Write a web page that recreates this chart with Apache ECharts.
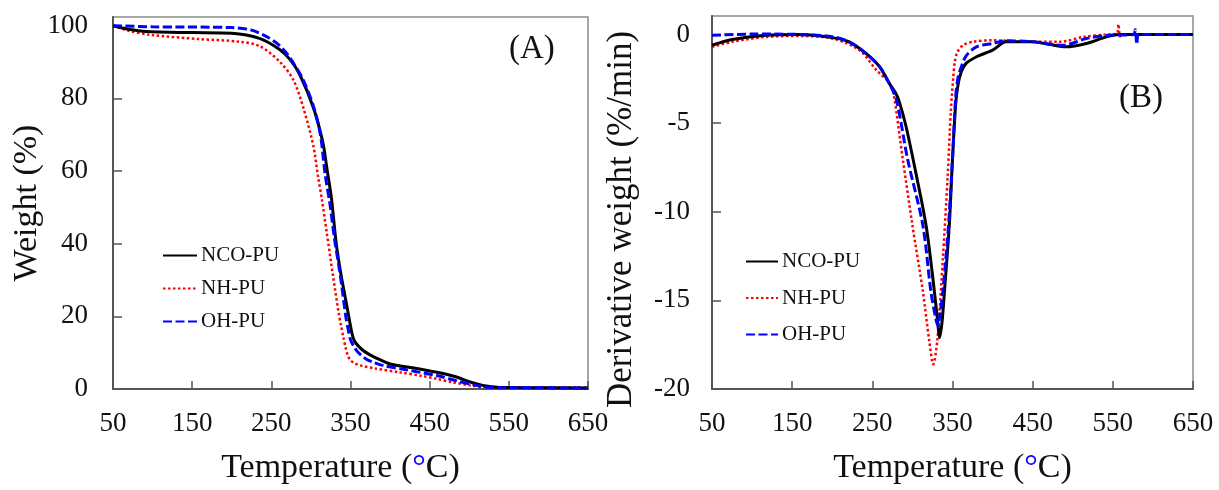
<!DOCTYPE html>
<html>
<head>
<meta charset="utf-8">
<script src="https://cdn.jsdelivr.net/npm/echarts@6/dist/echarts.min.js"></script>
<style>
  html, body { margin: 0; padding: 0; background: #fff; }
  #chart { width: 1219px; height: 490px; }
</style>
</head>
<body>
<div id="chart"></div>
<script>
// Tick positions
const xTicks = [50, 150, 250, 350, 450, 550, 650];
const yTicksA = [0, 20, 40, 60, 80, 100];
const yTicksB = [-20, -15, -10, -5, 0];

// (A) TGA weight curves: [temperature °C, weight %]
const tgaNCO = [[50,100],[70,99.0],[92,98.4],[150,98.1],[200,97.9],[235,96.5],[260,93.5],[274,90.6],[286,86.5],[303,77.5],[315,68],[320,61],[326,52.4],[332,40],[338,31.5],[345,23.3],[349,18.5],[352,15.2],[355,13.2],[360,11.8],[366,10.6],[373,9.6],[380,8.8],[400,6.9],[430,5.8],[459,4.6],[484,3.3],[500,2.0],[517,1.0],[535,0.5],[560,0.4],[650,0.3]];
const tgaNH = [[50,100],[70,98.6],[97,97.5],[160,96.3],[210,95.6],[236,94.3],[261,90],[278,85],[291,77],[303,67],[309,58.5],[314,52],[320,43],[328,31],[335,21],[338,17.5],[341,14.2],[344,11.2],[347,9.0],[350,7.9],[355,7.1],[362,6.5],[380,5.7],[412,4.6],[440,3.6],[459,2.8],[480,1.8],[501,1.0],[520,0.5],[650,0.4]];
const tgaOH = [[50,100],[100,99.7],[200,99.5],[225,98.8],[244,97],[258,95],[269,92.5],[280,89],[290,85.2],[303,78],[312,70],[318,59],[324,51],[330,41],[337,31.5],[344,20],[347,16.5],[350,13.6],[354,11.8],[358,10.5],[362,9.6],[370,8.2],[380,7.3],[391,6.5],[420,5.3],[459,3.7],[485,2.2],[509,1.0],[525,0.4],[650,0.3]];

// (B) DTG curves: [temperature °C, derivative weight %/min]
const dtgNCO = [[50,-0.6],[75,-0.28],[117,-0.04],[159,0],[200,-0.17],[221,-0.41],[242,-1.06],[259,-1.81],[271,-2.74],[279,-3.3],[283,-3.7],[292,-5.17],[305,-7.96],[317,-10.76],[325,-13.55],[331,-15.97],[334,-17.1],[337,-16.2],[340,-14.48],[346,-10.76],[350,-7.03],[354,-3.9],[357,-2.8],[361,-2.1],[367,-1.62],[380,-1.25],[400,-0.88],[417,-0.41],[450,-0.41],[470,-0.55],[492,-0.69],[517,-0.5],[542,-0.13],[559,0],[650,0]];
const dtgNH = [[50,-0.69],[75,-0.41],[117,-0.13],[159,-0.08],[200,-0.22],[234,-0.88],[255,-2.0],[271,-2.7],[276,-3.2],[288,-7.03],[300,-10.76],[313,-14.48],[321,-17.28],[326,-18.6],[331,-17.28],[338,-12.62],[344,-7.96],[348,-4.23],[351,-2.4],[353,-1.5],[356,-1.0],[363,-0.6],[375,-0.41],[400,-0.32],[450,-0.41],[484,-0.41],[513,-0.13],[540,0],[555,0.05],[557,0.58],[559,-0.1],[562,0],[650,0]];
const dtgOH = [[50,-0.04],[100,0.03],[150,0.02],[200,-0.12],[221,-0.41],[242,-1.06],[259,-1.81],[271,-2.74],[280,-3.67],[294,-7.03],[313,-10.76],[323,-14.48],[329,-16],[332,-16.44],[334,-15.9],[338,-14.48],[345,-10.76],[350,-7.03],[354,-3.5],[357,-2.4],[362,-1.7],[367,-1.2],[380,-0.69],[400,-0.5],[417,-0.35],[450,-0.41],[488,-0.6],[517,-0.22],[545,-0.04],[576,0],[578,0.28],[580,-0.55],[582,0],[650,0]];

const FONT = '"Liberation Serif", "Times New Roman", serif';
const AXIS_COLOR = '#555555';

const styles = {
  'NCO-PU': { color: '#000000', type: 'solid', width: 3 },
  'NH-PU': { color: '#ff0000', type: [2.5, 2.5], width: 2.5 },
  'OH-PU': { color: '#0000ff', type: [9, 3.5], width: 3 }
};

function makeSeries(name, data, idx) {
  const s = styles[name];
  return {
    name: name,
    type: 'line',
    xAxisIndex: idx,
    yAxisIndex: idx,
    data: data,
    symbol: 'none',
    smooth: 0.3,
    lineStyle: { color: s.color, type: s.type, width: s.width },
    itemStyle: { color: s.color },
    z: name === 'NCO-PU' ? 3 : (name === 'OH-PU' ? 4 : 2)
  };
}

function xAxis(gridIndex, shiftLeft) {
  return {
    type: 'value',
    gridIndex: gridIndex,
    min: 50, max: 650,
    name: 'Temperature ({deg|°}C)',
    nameLocation: 'middle',
    nameGap: 62,
    nameTextStyle: {
      fontFamily: FONT, fontSize: 34, color: '#111',
      padding: [0, shiftLeft, 0, 0],
      rich: { deg: { color: '#0000ff', fontFamily: FONT, fontSize: 34 } }
    },
    axisLine: { show: true, onZero: false, lineStyle: { color: AXIS_COLOR, width: 2 } },
    axisTick: { show: true, inside: true, length: 8, customValues: xTicks, lineStyle: { color: AXIS_COLOR, width: 1.5 } },
    axisLabel: { customValues: xTicks, margin: 21, fontFamily: FONT, fontSize: 27, color: '#111' },
    splitLine: { show: false }
  };
}

function legend(left, top, itemWidth, gap) {
  return {
    left: left, top: top, orient: 'vertical', padding: 0,
    itemWidth: itemWidth, itemHeight: 14, itemGap: gap,
    data: ['NCO-PU', 'NH-PU', 'OH-PU'],
    itemStyle: { opacity: 0 },
    textStyle: { fontFamily: FONT, fontSize: 21, color: '#111', lineHeight: 21, padding: [0, 0, 0, -1] },
    selectedMode: false
  };
}

const option = {
  backgroundColor: '#ffffff',
  animation: false,
  grid: [
    { left: 113, top: 17, width: 475, height: 375, show: true, borderColor: '#8c8c8c', borderWidth: 1.5, backgroundColor: 'transparent' },
    { left: 712, top: 16, width: 481, height: 376, show: true, borderColor: '#8c8c8c', borderWidth: 1.5, backgroundColor: 'transparent' }
  ],
  xAxis: [xAxis(0, 20), xAxis(1, 0)],
  yAxis: [
    {
      type: 'value', gridIndex: 0, min: 0, max: 102.4,
      name: 'Weight (%)', nameLocation: 'middle', nameGap: 67,
      nameTextStyle: { fontFamily: FONT, fontSize: 34, color: '#111' },
      axisLine: { show: true, onZero: false, lineStyle: { color: AXIS_COLOR, width: 2 } },
      axisTick: { show: true, inside: true, length: 9, customValues: yTicksA, lineStyle: { color: AXIS_COLOR, width: 1.5 } },
      axisLabel: { customValues: yTicksA, margin: 25, fontFamily: FONT, fontSize: 27, color: '#111' },
      splitLine: { show: false }
    },
    {
      type: 'value', gridIndex: 1, min: -20, max: 1.05,
      name: 'Derivative weight (%/min)', nameLocation: 'middle', nameGap: 73,
      nameTextStyle: { fontFamily: FONT, fontSize: 35, color: '#111', padding: [0, 34, 0, 0] },
      axisLine: { show: true, onZero: false, lineStyle: { color: AXIS_COLOR, width: 2 } },
      axisTick: { show: true, inside: true, length: 9, customValues: yTicksB, lineStyle: { color: AXIS_COLOR, width: 1.5 } },
      axisLabel: { customValues: yTicksB, margin: 22, fontFamily: FONT, fontSize: 27, color: '#111' },
      splitLine: { show: false }
    }
  ],
  legend: [legend(162, 245, 34, 12), legend(745, 251, 32, 15.5)],
  graphic: [
    { type: 'text', left: 509, top: 33, style: { text: '(A)', fontFamily: FONT, fontSize: 33, fill: '#111' } },
    { type: 'text', left: 1119, top: 82, style: { text: '(B)', fontFamily: FONT, fontSize: 33, fill: '#111' } }
  ],
  series: [
    makeSeries('NCO-PU', tgaNCO, 0),
    makeSeries('NH-PU', tgaNH, 0),
    makeSeries('OH-PU', tgaOH, 0),
    makeSeries('NCO-PU', dtgNCO, 1),
    makeSeries('NH-PU', dtgNH, 1),
    makeSeries('OH-PU', dtgOH, 1)
  ]
};

const chart = echarts.init(document.getElementById('chart'), null, { renderer: 'canvas' });
chart.setOption(option);
</script>
</body>
</html>
